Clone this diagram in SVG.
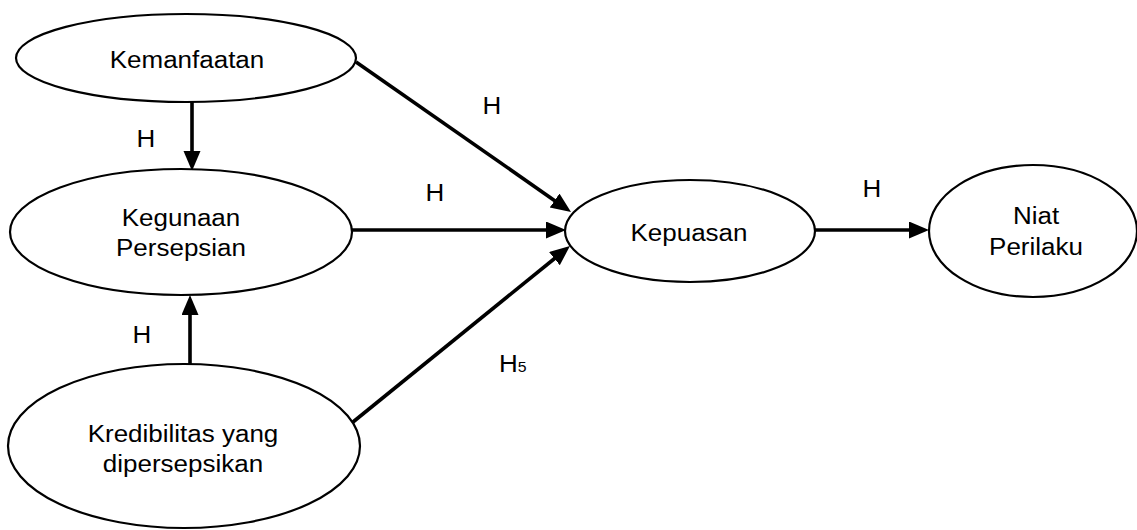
<svg xmlns="http://www.w3.org/2000/svg" width="1137" height="530" viewBox="0 0 1137 530">
<style>
  .node ellipse { fill: #ffffff; stroke: #000000; stroke-width: 2.2; }
  text { font-family: "Liberation Sans", Arial, sans-serif; font-size: 23px; fill: #000000; text-anchor: middle; }
  .conn line { stroke: #000000; stroke-width: 3.6; }
</style>
<defs>
  <marker id="arr" markerUnits="userSpaceOnUse" markerWidth="21" markerHeight="18" refX="5" refY="8.5" orient="auto">
    <path d="M0,0 L20,8.5 L0,17 z" fill="#000000"/>
  </marker>
</defs>
<rect width="1137" height="530" fill="#ffffff"/>
<g id="connectors" class="conn">
  <line x1="192" y1="102" x2="192" y2="156" marker-end="url(#arr)"/>
  <line x1="190" y1="364" x2="190" y2="310" marker-end="url(#arr)"/>
  <line x1="356" y1="62" x2="558.7" y2="203.4" marker-end="url(#arr)"/>
  <line x1="352" y1="230" x2="551" y2="230" marker-end="url(#arr)"/>
  <line x1="353" y1="422" x2="558.3" y2="255.5" marker-end="url(#arr)"/>
  <line x1="815" y1="230" x2="914" y2="230" marker-end="url(#arr)"/>
</g>
<g id="labels">
  <text transform="matrix(1.13 0 0 1 146 147)">H</text>
  <text transform="matrix(1.13 0 0 1 142 343)">H</text>
  <text transform="matrix(1.13 0 0 1 492 114)">H</text>
  <text transform="matrix(1.13 0 0 1 435 201)">H</text>
  <text transform="matrix(1.13 0 0 1 872 197)">H</text>
  <text transform="matrix(1.13 0 0 1 499 372)" style="text-anchor:start">H<tspan font-size="14">5</tspan></text>
</g>
<g id="node-kemanfaatan" class="node">
  <ellipse cx="186" cy="58" rx="170" ry="44"/>
  <text transform="matrix(1.13 0 0 1 187 68)">Kemanfaatan</text>
</g>
<g id="node-kegunaan" class="node">
  <ellipse cx="181" cy="232" rx="171" ry="63"/>
  <text transform="matrix(1.13 0 0 1 181 226)">Kegunaan</text>
  <text transform="matrix(1.13 0 0 1 181 256)">Persepsian</text>
</g>
<g id="node-kredibilitas" class="node">
  <ellipse cx="184" cy="446" rx="176" ry="82"/>
  <text transform="matrix(1.13 0 0 1 183 442)">Kredibilitas yang</text>
  <text transform="matrix(1.13 0 0 1 183 472)">dipersepsikan</text>
</g>
<g id="node-kepuasan" class="node">
  <ellipse cx="690" cy="231" rx="125" ry="51"/>
  <text transform="matrix(1.13 0 0 1 689 241)">Kepuasan</text>
</g>
<g id="node-niat" class="node">
  <ellipse cx="1033" cy="231" rx="104" ry="66"/>
  <text transform="matrix(1.13 0 0 1 1036 224)">Niat</text>
  <text transform="matrix(1.13 0 0 1 1036 255)">Perilaku</text>
</g>
</svg>
